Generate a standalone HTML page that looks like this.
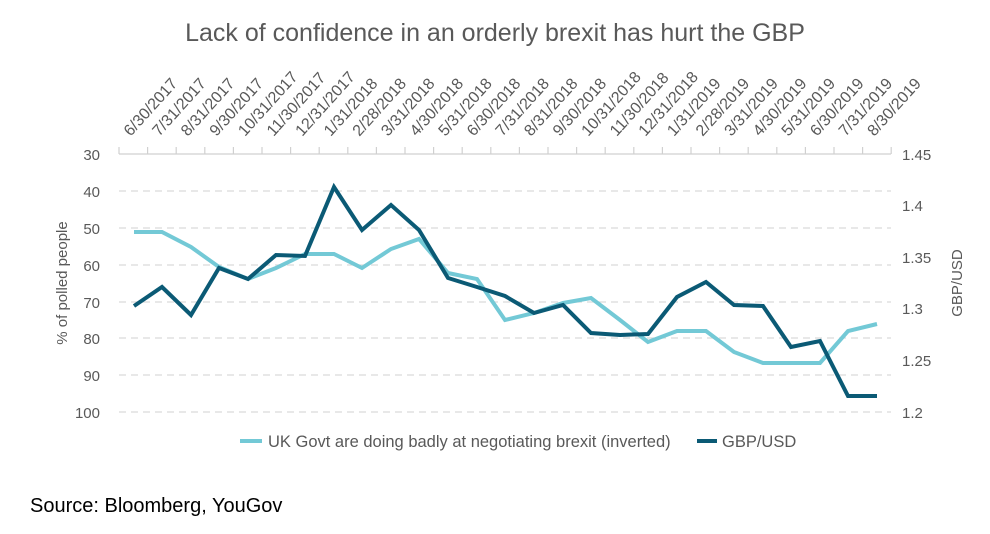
<!DOCTYPE html>
<html><head><meta charset="utf-8"><style>
body{margin:0;background:#fff;}
svg text{font-family:"Liberation Sans",sans-serif;}
</style></head><body>
<svg width="990" height="529" viewBox="0 0 990 529" xmlns="http://www.w3.org/2000/svg">
<text x="495" y="41" text-anchor="middle" font-size="25" fill="#595959">Lack of confidence in an orderly brexit has hurt the GBP</text>
<g stroke="#d9d9d9" stroke-width="1.2" stroke-dasharray="7,5">
<line x1="119" x2="891" y1="191" y2="191"/><line x1="119" x2="891" y1="228" y2="228"/>
<line x1="119" x2="891" y1="265" y2="265"/><line x1="119" x2="891" y1="302" y2="302"/>
<line x1="119" x2="891" y1="338" y2="338"/><line x1="119" x2="891" y1="375" y2="375"/>
<line x1="119" x2="891" y1="412" y2="412"/>
</g>
<g id="ax" stroke="#d0d0d0" stroke-width="1.2"></g>
<g id="lbl" font-size="16" fill="#595959"></g>
<g font-size="15" fill="#595959" text-anchor="end">
<text x="100" y="160">30</text><text x="100" y="197">40</text><text x="100" y="234">50</text>
<text x="100" y="271">60</text><text x="100" y="308">70</text><text x="100" y="344">80</text>
<text x="100" y="381">90</text><text x="100" y="418">100</text>
</g>
<g font-size="15" fill="#595959">
<text x="902" y="160">1.45</text><text x="902" y="211">1.4</text><text x="902" y="263">1.35</text>
<text x="902" y="314">1.3</text><text x="902" y="366">1.25</text><text x="902" y="418">1.2</text>
</g>
<text transform="translate(67,283) rotate(-90)" text-anchor="middle" font-size="15" fill="#595959">% of  polled people</text>
<text transform="translate(962,283) rotate(-90)" text-anchor="middle" font-size="15" fill="#595959">GBP/USD</text>
<polyline fill="none" stroke="#73c9d6" stroke-width="4" points="134,232 162,232 191,247 219,267 248,279 276,268 305,254 334,254 362,268 391,249 419,239 448,273 477,279 505,320 534,313 563,303 591,298 620,320 648,342 677,331 706,331 734,352 763,363 791,363 820,363 848,331 877,324"/>
<polyline fill="none" stroke="#0b5a75" stroke-width="4" points="134,306 162,287 191,315 219,268 248,279 276,255 305,256 334,187 362,230 391,205 419,230 448,278 477,287 505,296 534,313 563,305 591,333 620,335 648,334 677,297 706,282 734,305 763,306 791,347 820,341 848,396 877,396"/>
<line x1="240" x2="262" y1="441" y2="441" stroke="#73c9d6" stroke-width="4"/>
<text x="268" y="447" font-size="16.5" fill="#595959">UK Govt are doing badly at negotiating brexit (inverted)</text>
<line x1="697" x2="717" y1="441" y2="441" stroke="#0b5a75" stroke-width="4"/>
<text x="722" y="447" font-size="16.5" fill="#595959">GBP/USD</text>
<text x="30" y="512" font-size="20" fill="#000">Source: Bloomberg, YouGov</text>
</svg>
<script>
var d=["6/30/2017","7/31/2017","8/31/2017","9/30/2017","10/31/2017","11/30/2017","12/31/2017","1/31/2018","2/28/2018","3/31/2018","4/30/2018","5/31/2018","6/30/2018","7/31/2018","8/31/2018","9/30/2018","10/31/2018","11/30/2018","12/31/2018","1/31/2019","2/28/2019","3/31/2019","4/30/2019","5/31/2019","6/30/2019","7/31/2019","8/30/2019"];
var ns="http://www.w3.org/2000/svg",ax=document.getElementById("ax"),lb=document.getElementById("lbl");
function el(t,a){var e=document.createElementNS(ns,t);for(var k in a)e.setAttribute(k,a[k]);return e;}
ax.appendChild(el("line",{x1:119,x2:891,y1:154,y2:154}));
for(var i=0;i<=27;i++){var x=119+i*28.6;ax.appendChild(el("line",{x1:x,x2:x,y1:147,y2:154}));}
for(var i=0;i<27;i++){var x=133.6+i*28.6;var t=el("text",{transform:"translate("+(x-3)+",137) rotate(-48)"});t.textContent=d[i];lb.appendChild(t);}
</script>
</body></html>
